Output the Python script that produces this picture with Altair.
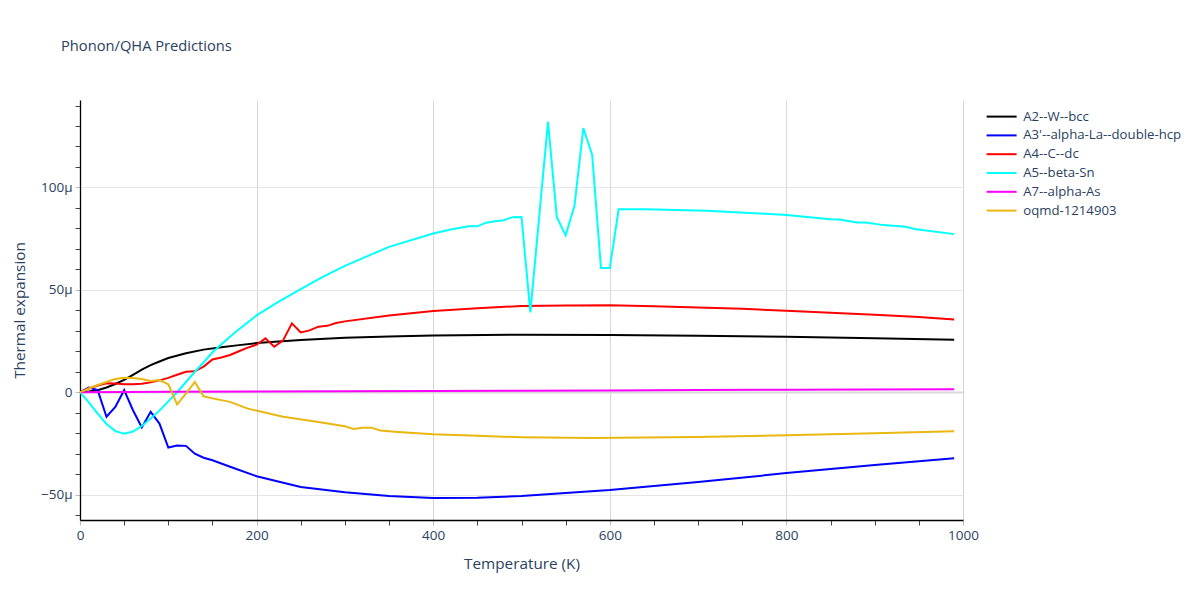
import altair as alt
import pandas as pd

# ---- data (values in units of 1e-6 / K) ----
series_names = ["A2--W--bcc", "A3'--alpha-La--double-hcp", "A4--C--dc",
                "A5--beta-Sn", "A7--alpha-As", "oqmd-1214903"]
series_colors = ["#000000", "#0000ff", "#ff0000", "#00ffff", "#ff00ff", "#e8b710"]

w_T = [0, 10, 20, 30, 40, 50, 60, 70, 80, 90, 100, 120, 140, 160, 180, 200, 250,
       300, 350, 400, 500, 600, 700, 800, 900, 990]
w_v = [0, 0.3, 1.0, 2.3, 4.0, 6.0, 8.5, 11.0, 13.2, 15.0, 16.7, 19.0, 20.8, 22.0,
       23.0, 24.0, 25.5, 26.6, 27.2, 27.7, 28.1, 28.0, 27.6, 27.1, 26.4, 25.6]

la_T = [0, 10, 20, 30, 40, 50, 60, 70, 80, 90, 100, 110, 120, 130, 140, 150, 170,
        200, 250, 300, 350, 400, 450, 500, 600, 700, 800, 900, 990]
la_v = [0, 2.3, 1.0, -12.0, -7.2, 1.0, -8.8, -17.2, -9.6, -15.3, -27.0, -26.0,
        -26.2, -30.0, -32.0, -33.2, -36.4, -41.0, -46.3, -48.8, -50.7, -51.7,
        -51.5, -50.7, -47.8, -43.9, -39.5, -35.6, -32.2]

c_T = [0, 10, 20, 30, 40, 50, 60, 70, 80, 90, 100, 110, 120, 130, 140, 150, 160,
       170, 180, 190, 200, 210, 220, 230, 240, 250, 260, 270, 280, 290, 300, 350,
       400, 450, 500, 550, 600, 650, 700, 750, 800, 850, 900, 950, 990]
c_v = [0, 1.8, 3.3, 4.4, 4.2, 3.9, 3.9, 4.1, 4.8, 5.8, 7.0, 8.5, 10.0, 10.2, 12.5,
       16.0, 17.0, 18.2, 20.0, 21.8, 23.2, 26.3, 22.2, 25.3, 33.6, 29.2, 30.2,
       32.0, 32.4, 33.8, 34.6, 37.5, 39.7, 41.0, 42.1, 42.4, 42.5, 42.0, 41.4,
       40.7, 39.8, 38.8, 37.8, 36.7, 35.5]

sn_T = [0, 10, 20, 30, 40, 50, 60, 70, 80, 90, 100, 110, 120, 130, 140, 150, 175,
        200, 225, 250, 275, 300, 350, 400, 420, 440, 450, 460, 470, 480, 490, 500,
        510, 530, 540, 550, 560, 570, 580, 590, 600, 610, 640, 710, 800, 850, 860,
        880, 890, 910, 935, 945, 990]
sn_v = [0, -5.0, -10.5, -15.5, -19.0, -20.3, -19.2, -16.5, -12.8, -9.0, -4.5, 0,
        5.0, 10.0, 14.5, 19.5, 29.0, 37.5, 44.2, 50.3, 56.3, 61.7, 71.0, 77.5, 79.5,
        81.0, 81.0, 82.8, 83.5, 84.0, 85.5, 85.6, 39.0, 132.0, 85.5, 76.6, 91.0,
        129.0, 116.0, 60.6, 60.6, 89.3, 89.3, 88.6, 86.6, 84.5, 84.3, 82.9, 82.9,
        81.6, 80.8, 79.7, 77.2]

as_T = [0, 100, 200, 300, 400, 500, 600, 700, 800, 900, 990]
as_v = [0, 0.2, 0.3, 0.45, 0.6, 0.75, 0.9, 1.05, 1.2, 1.35, 1.5]

oq_T = [0, 10, 20, 30, 40, 50, 60, 70, 80, 90, 100, 110, 120, 130, 140, 150, 170,
        190, 230, 270, 300, 310, 320, 330, 340, 360, 400, 450, 500, 580, 700, 800,
        900, 990]
oq_v = [0, 1.8, 3.5, 5.0, 6.5, 7.1, 7.0, 6.5, 5.5, 5.9, 3.9, -5.9, -0.7, 5.0,
        -2.0, -3.0, -4.7, -8.0, -12.0, -14.5, -16.6, -18.0, -17.3, -17.3, -18.7,
        -19.4, -20.5, -21.3, -22.0, -22.4, -21.9, -21.0, -20.0, -19.0]

rows = []
for name, T, V in zip(series_names,
                      [w_T, la_T, c_T, sn_T, as_T, oq_T],
                      [w_v, la_v, c_v, sn_v, as_v, oq_v]):
    for i, (t, v) in enumerate(zip(T, V)):
        rows.append({"series": name, "T": t, "alpha": v, "order": i})
df = pd.DataFrame(rows)

text_color = "#2a3f5f"
font = "Open Sans"

y_ticks = list(range(-60, 141, 10))
x_ticks = list(range(0, 1001, 50))

y_label = ("datum.value % 50 === 0 ? (datum.value < 0 ? '\u2212' + abs(datum.value) + '\u03bc' : "
           "(datum.value === 0 ? '0' : datum.value + '\u03bc')) : ''")

chart = alt.Chart(df).mark_line(strokeWidth=2, clip=True).encode(
    x=alt.X("T:Q", scale=alt.Scale(domain=[0, 1000], nice=False, zero=False),
            axis=alt.Axis(
                title="Temperature (K)", values=x_ticks,
                labelExpr="datum.value % 200 === 0 ? datum.value : ''",
                labelFlush=False,
                gridOpacity={"condition": {"test": "datum.value % 200 === 0", "value": 1}, "value": 0},
                tickColor={"condition": {"test": "datum.value % 200 === 0", "value": "#bbbbbb"}, "value": "#444444"},
                gridColor="#d6d6d6", tickSize=5, labelPadding=3,
                domainColor="#000000", domainWidth=1.3,
                titleX=441.5, titleY=43, titleBaseline="middle",
            )),
    y=alt.Y("alpha:Q", scale=alt.Scale(domain=[-62.4, 142.7], nice=False, zero=False),
            axis=alt.Axis(
                title="Thermal expansion", values=y_ticks, labelExpr=y_label,
                gridOpacity={"condition": {"test": "datum.value % 50 === 0", "value": 1}, "value": 0},
                gridColor={"condition": {"test": "datum.value === 0", "value": "#d9d9d9"}, "value": "#e5e5e5"},
                gridWidth={"condition": {"test": "datum.value === 0", "value": 2}, "value": 1},
                tickColor={"condition": {"test": "datum.value % 50 === 0", "value": "#bbbbbb"}, "value": "#444444"},
                tickSize=5, labelPadding=3,
                domainColor="#000000", domainWidth=1.3,
                titleX=-61, titleY=210, titleBaseline="middle",
            )),
    color=alt.Color("series:N",
                    scale=alt.Scale(domain=series_names, range=series_colors),
                    legend=alt.Legend(title=None, orient="none", legendX=915, legendY=10)),
    order="order:Q",
).properties(
    width=883, height=420,
    title=alt.TitleParams("Phonon/QHA Predictions", anchor="start", frame="group",
                          dx=-19, offset=38, baseline="middle",
                          fontSize=14.7, font=font, color=text_color, fontWeight="normal"),
    autosize=alt.AutoSizeParams(type="none"),
    padding={"left": 72, "top": 92, "right": 229, "bottom": 72},
).configure_axis(
    labelFont=font, labelFontSize=13.5, labelColor=text_color,
    titleFont=font, titleFontSize=15.3, titleColor=text_color, titleFontWeight="normal",
).configure_legend(
    labelFont=font, labelFontSize=13.2, labelColor=text_color,
    symbolType="M-3,0H3", symbolSize=100, symbolStrokeWidth=2,
    labelOffset=15, rowPadding=4.8, padding=0, labelLimit=300,
).configure_view(stroke=None)

chart.save("out.html", embed_options={"renderer": "svg", "actions": False})
